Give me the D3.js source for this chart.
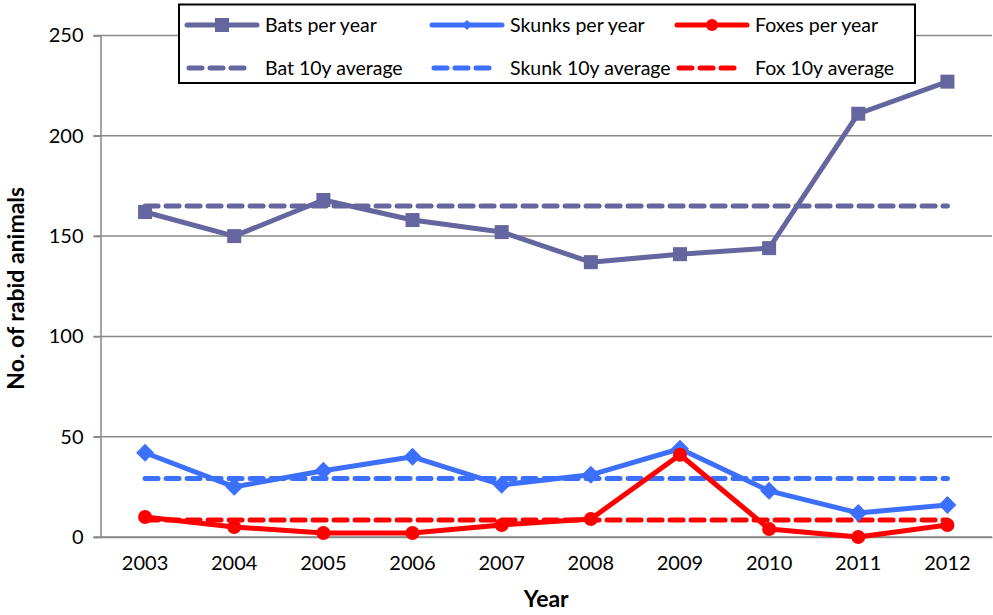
<!DOCTYPE html>
<html>
<head>
<meta charset="utf-8">
<script src="https://cdn.jsdelivr.net/npm/d3@7"></script>
<style>
  body { margin: 0; background: #fff; }
  text { font-family: Lato, "Open Sans", sans-serif; }
</style>
</head>
<body>
<script>
// chart data
var years = ["2003","2004","2005","2006","2007","2008","2009","2010","2011","2012"]
var bats = [162, 150, 168, 158, 152, 137, 141, 144, 211, 227]
var skunks = [42, 25, 33, 40, 26, 31, 44, 23, 12, 16]
var foxes = [10, 5, 2, 2, 6, 9, 41, 4, 0, 6]
var yTicks = [0, 50, 100, 150, 200, 250]

var avg = arr => d3.mean(arr)

var series = [
    {name: "Bats per year", avgName: "Bat 10y average", values: bats, color: "#65659f", marker: "square"},
    {name: "Skunks per year", avgName: "Skunk 10y average", values: skunks, color: "#3d6ffd", marker: "diamond"},
    {name: "Foxes per year", avgName: "Fox 10y average", values: foxes, color: "#ff0000", marker: "circle"}
]

var width = 993, height = 615
var margin = {top: 35.5, right: 1, bottom: 78, left: 100.5}

var svg = d3.select("body").append("svg")
    .attr("width", width)
    .attr("height", height)

var xScale = d3.scaleBand()
    .domain(years)
    .range([margin.left, width - margin.right])
var yScale = d3.scaleLinear()
    .domain([0, 250])
    .range([height - margin.bottom, margin.top])

// gridlines
svg.append("g")
    .selectAll("line")
    .data(yTicks)
    .join("line")
        .attr("x1", margin.left - 7)
        .attr("x2", width - margin.right)
        .attr("y1", d => yScale(d))
        .attr("y2", d => yScale(d))
        .attr("stroke", "#888")
        .attr("stroke-width", 1.5)

// y axis
var yAxis = svg.append("g")
    .attr("transform", `translate(${margin.left},0)`)
    .call(d3.axisLeft(yScale).tickValues(yTicks).tickSize(7).tickPadding(10))
yAxis.select(".domain").attr("stroke", "#888").attr("stroke-width", 1.5)
yAxis.selectAll(".tick line").attr("stroke", "#888").attr("stroke-width", 1.5)
yAxis.selectAll("text").attr("font-size", 20).attr("fill", "#000")
    .style("font-family", "Lato, sans-serif")

// x axis
var xAxis = svg.append("g")
    .attr("transform", `translate(0,${yScale(0)})`)
    .call(d3.axisBottom(xScale).tickSize(0).tickPadding(19))
xAxis.select(".domain").attr("stroke", "#888").attr("stroke-width", 1.5)
xAxis.selectAll("text").attr("font-size", 20).attr("fill", "#000")
    .style("font-family", "Lato, sans-serif")

// axis titles
svg.append("text")
    .attr("x", (margin.left + width - margin.right) / 2)
    .attr("y", 607)
    .attr("text-anchor", "middle")
    .attr("font-size", 23)
    .attr("font-weight", "bold")
    .text("Year")
svg.append("text")
    .attr("transform", `translate(24,${(margin.top + yScale(0)) / 2 + 2}) rotate(-90)`)
    .attr("text-anchor", "middle")
    .attr("font-size", 23)
    .attr("font-weight", "bold")
    .text("No. of rabid animals")

var xc = d => xScale(d) + xScale.bandwidth() / 2

// average dashed lines
series.forEach(s => {
    var a = avg(s.values)
    svg.append("line")
        .attr("x1", xc(years[0]))
        .attr("x2", xc(years[years.length - 1]))
        .attr("y1", yScale(a))
        .attr("y2", yScale(a))
        .attr("stroke", s.color)
        .attr("stroke-width", 5)
        .attr("stroke-dasharray", "13,8")
        .attr("stroke-linecap", "round")
})

var line = d3.line()
    .x((d, i) => xc(years[i]))
    .y(d => yScale(d))

function drawMarker(g, type, color) {
    if (type === "square") {
        g.append("rect").attr("x", -7).attr("y", -7).attr("width", 14).attr("height", 14).attr("fill", color)
    } else if (type === "diamond") {
        g.append("path").attr("d", "M0,-9L9,0L0,9L-9,0Z").attr("fill", color)
    } else {
        g.append("circle").attr("r", 7).attr("fill", color)
    }
}

// series lines and markers
series.forEach(s => {
    svg.append("path")
        .datum(s.values)
        .attr("d", line)
        .attr("fill", "none")
        .attr("stroke", s.color)
        .attr("stroke-width", 5)
        .attr("stroke-linejoin", "round")
    s.values.forEach((v, i) => {
        var g = svg.append("g").attr("transform", `translate(${xc(years[i])},${yScale(v)})`)
        drawMarker(g, s.marker, s.color)
    })
})

// legend
var legend = svg.append("g")
legend.append("rect")
    .attr("x", 179).attr("y", 4.5)
    .attr("width", 736).attr("height", 78.5)
    .attr("fill", "#fff")
    .attr("stroke", "#000")
    .attr("stroke-width", 2)

var colX = [187, 432, 677]
series.forEach((s, i) => {
    var x0 = colX[i]
    // per-year entry
    legend.append("line")
        .attr("x1", x0).attr("x2", x0 + 70)
        .attr("y1", 25).attr("y2", 25)
        .attr("stroke", s.color).attr("stroke-width", 5).attr("stroke-linecap", "round")
    var m = legend.append("g").attr("transform", `translate(${x0 + 35},25)`)
    if (s.marker === "square") {
        m.append("rect").attr("x", -7).attr("y", -7).attr("width", 14).attr("height", 14).attr("fill", s.color)
    } else if (s.marker === "diamond") {
        m.append("path").attr("d", "M0,-5L5,0L0,5L-5,0Z").attr("fill", s.color)
    } else {
        m.append("circle").attr("r", 6).attr("fill", s.color)
    }
    legend.append("text")
        .attr("x", x0 + 78).attr("y", 25)
        .attr("dy", "0.35em")
        .attr("font-size", 19.5)
        .text(s.name)
    // average entry
    legend.append("line")
        .attr("x1", x0 + 2).attr("x2", x0 + 62)
        .attr("y1", 68).attr("y2", 68)
        .attr("stroke", s.color).attr("stroke-width", 5)
        .attr("stroke-dasharray", "13,8").attr("stroke-linecap", "round")
    legend.append("text")
        .attr("x", x0 + 78).attr("y", 68)
        .attr("dy", "0.35em")
        .attr("font-size", 19.5)
        .text(s.avgName)
})
</script>
</body>
</html>
